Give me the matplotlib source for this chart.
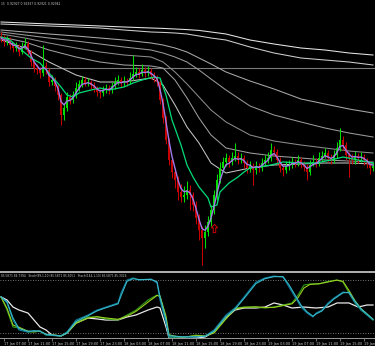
import numpy as np
import pandas as pd
import matplotlib
matplotlib.use("Agg")
import matplotlib.pyplot as plt
from matplotlib.path import Path

# ---------------- data (prices in points, 1 point = 0.00001) ----------------
close_pts = [92810, 92790, 92800, 92775, 92760, 92770, 92740, 92765, 92780, 92740,
             92690, 92660, 92650, 92635, 92670, 92650, 92590, 92600, 92570, 92525,
             92425, 92460, 92515, 92500, 92525, 92560, 92580, 92600, 92585, 92590,
             92575, 92560, 92540, 92535, 92550, 92560, 92550, 92570, 92590, 92600,
             92585, 92595, 92590, 92610, 92630, 92640, 92630, 92650, 92635, 92645,
             92625, 92610, 92590, 92500, 92410, 92300, 92200, 92140, 92100, 92040,
             92015, 92025, 92050, 92025, 91975, 91910, 91850, 91810, 91840, 91890,
             91950, 92025, 92100, 92160, 92190, 92210, 92190, 92210, 92220, 92200,
             92210, 92185, 92160, 92170, 92150, 92170, 92160, 92185, 92200, 92210,
             92250, 92240, 92200, 92160, 92150, 92170, 92175, 92190, 92185, 92200,
             92180, 92165, 92140, 92175, 92190, 92185, 92210, 92220, 92235, 92210,
             92200, 92225, 92260, 92300, 92275, 92225, 92210, 92200, 92220, 92210,
             92215, 92200, 92185, 92160, 92170]
high_pts = [92840, 92825, 92820, 92815, 92790, 92790, 92780, 92790, 92810, 92795,
            92750, 92700, 92680, 92665, 92775, 92690, 92660, 92625, 92615, 92580,
            92535, 92480, 92540, 92530, 92545, 92590, 92600, 92620, 92615, 92610,
            92600, 92590, 92570, 92555, 92570, 92580, 92575, 92590, 92615, 92625,
            92615, 92620, 92610, 92640, 92725, 92665, 92660, 92680, 92665, 92670,
            92660, 92640, 92625, 92600, 92510, 92420, 92310, 92215, 92160, 92120,
            92080, 92070, 92095, 92075, 92040, 91995, 91930, 91870, 91875, 91920,
            91975, 92050, 92130, 92190, 92215, 92235, 92225, 92240, 92285, 92240,
            92235, 92225, 92200, 92195, 92185, 92195, 92185, 92210, 92225, 92240,
            92285, 92270, 92255, 92215, 92175, 92195, 92200, 92215, 92205, 92225,
            92215, 92195, 92180, 92200, 92225, 92210, 92240, 92245, 92260, 92250,
            92230, 92250, 92290, 92360, 92320, 92290, 92240, 92230, 92245, 92235,
            92240, 92230, 92210, 92195, 92190]
low_pts = [92790, 92770, 92775, 92755, 92740, 92745, 92720, 92730, 92755, 92725,
           92670, 92640, 92630, 92610, 92620, 92630, 92570, 92575, 92545, 92500,
           92375, 92400, 92445, 92480, 92485, 92510, 92545, 92565, 92570, 92570,
           92555, 92540, 92520, 92510, 92520, 92535, 92530, 92535, 92555, 92575,
           92565, 92570, 92570, 92580, 92600, 92615, 92610, 92620, 92615, 92620,
           92605, 92590, 92570, 92480, 92385, 92280, 92175, 92110, 92060, 92000,
           91990, 91990, 92005, 91950, 91945, 91880, 91800, 91675, 91760, 91820,
           91870, 91930, 92000, 92085, 92140, 92170, 92165, 92175, 92195, 92180,
           92185, 92160, 92135, 92140, 92075, 92130, 92140, 92145, 92170, 92185,
           92195, 92220, 92180, 92140, 92120, 92135, 92150, 92160, 92165, 92170,
           92160, 92145, 92100, 92125, 92170, 92165, 92170, 92195, 92210, 92190,
           92180, 92185, 92210, 92245, 92250, 92200, 92115, 92180, 92180, 92185,
           92190, 92175, 92160, 92130, 92145]
open_first = 92820

# medium green moving average
green_bar = [0, 3, 6, 10, 13, 16, 20, 22, 24, 26, 30, 33, 36, 41, 44, 47, 51, 53, 55, 57,
             60, 62, 64, 66, 69, 70, 72, 73, 76, 79, 81, 83, 86, 90, 94, 100, 105, 110, 114, 119, 124]
green_pts = [92815, 92800, 92760, 92710, 92685, 92635, 92565, 92525, 92515, 92535, 92550,
             92560, 92550, 92565, 92585, 92600, 92615, 92610, 92525, 92400, 92275, 92175,
             92115, 92065, 92010, 91965, 91975, 92040, 92085, 92115, 92140, 92160, 92165,
             92175, 92190, 92185, 92185, 92200, 92215, 92200, 92185]

# slow moving averages
ma_bar = [0, 8, 16, 25, 33, 41, 50, 54, 58, 62, 66, 70, 75, 83, 91, 100, 108, 116, 124]
ma_w1 = [92890, 92885, 92880, 92875, 92870, 92865, 92860, 92858, 92855, 92852, 92848, 92840,
         92830, 92800, 92780, 92760, 92750, 92735, 92725]
ma_w2 = [92880, 92875, 92870, 92865, 92860, 92850, 92840, 92838, 92835, 92830, 92820, 92810,
         92800, 92765, 92735, 92710, 92700, 92690, 92675]
ma_c = [92850, 92840, 92830, 92820, 92810, 92800, 92785, 92775, 92760, 92740, 92710, 92680,
        92640, 92595, 92555, 92505, 92480, 92455, 92435]
ma_b = [92840, 92825, 92810, 92795, 92780, 92765, 92750, 92735, 92715, 92690, 92650, 92605,
        92550, 92470, 92425, 92390, 92360, 92335, 92315]
ma_a = [92830, 92810, 92785, 92760, 92740, 92725, 92715, 92690, 92640, 92580, 92515, 92450,
        92390, 92325, 92295, 92275, 92260, 92245, 92235]
ma_e = [92815, 92790, 92750, 92715, 92690, 92675, 92670, 92660, 92600, 92510, 92410, 92325,
        92260, 92235, 92220, 92210, 92200, 92195, 92190]
ma_g = [92800, 92760, 92690, 92625, 92590, 92590, 92610, 92575, 92475, 92365, 92285, 92185,
        92135, 92160, 92175, 92180, 92185, 92185, 92180]

hline_pts = 92660
signal_bar = [71]
signal_pts = [91860]

# stochastic sub-window
st_bar_teal = [0, 2, 4, 6, 9, 11, 13, 15, 20, 22, 25, 29, 32, 35, 39, 40, 42, 44, 46, 50, 52, 53,
               55, 56, 60, 65, 68, 71, 75, 78, 81, 85, 88, 91, 94, 96, 98, 100, 102, 104, 105,
               107, 109, 111, 114, 116, 118, 120, 122, 124]
st_teal_main = [60.8, 54.0, 34.7, 23.4, 21.1, 22.3, 22.3, 17.7, 16.6, 21.1, 34.7, 40.4, 46.0,
                49.4, 54.0, 65.3, 80.0, 82.3, 80.0, 81.1, 76.6, 57.4, 31.3, 15.5, 15.5, 15.5,
                16.6, 23.4, 40.4, 48.3, 60.8, 77.7, 82.3, 84.5, 83.4, 72.1, 60.8, 49.4, 42.6,
                38.1, 42.6, 46.0, 54.0, 59.6, 66.4, 65.3, 54.0, 46.0, 40.4, 34.7]
st_teal_sig = [60.8, 55.5, 37.0, 25.0, 22.0, 22.5, 22.0, 18.5, 16.8, 20.0, 33.0, 39.5, 45.0,
               48.6, 53.0, 62.0, 78.5, 81.5, 80.5, 80.6, 78.0, 61.0, 35.0, 17.0, 15.8, 15.6,
               16.2, 22.0, 38.5, 47.0, 59.0, 76.0, 81.5, 83.8, 83.8, 74.5, 63.0, 51.5, 44.0,
               39.0, 41.5, 45.0, 52.5, 58.5, 65.5, 66.0, 56.0, 47.5, 41.5, 35.5]
st_bar_green = [0, 2, 4, 6, 9, 11, 13, 15, 20, 22, 25, 29, 32, 35, 39, 42, 45, 49, 52, 53, 55,
                56, 60, 65, 68, 71, 75, 78, 81, 85, 88, 91, 94, 97, 99, 101, 103, 106, 108,
                110, 112, 114, 116, 118, 120, 122, 124]
st_green_main = [60.8, 46.0, 26.8, 25.7, 21.1, 21.1, 22.3, 17.7, 16.6, 21.1, 32.5, 38.1, 38.1,
                 35.9, 34.7, 40.4, 46.0, 57.4, 63.0, 60.8, 34.7, 15.5, 14.3, 17.7, 16.6, 21.1,
                 38.1, 48.3, 49.4, 49.4, 48.3, 49.4, 51.7, 54.0, 63.0, 74.3, 75.5, 75.5, 77.7,
                 78.9, 80.0, 77.7, 65.3, 54.0, 46.0, 40.4, 34.7]
st_green_sig = [60.8, 48.0, 29.0, 26.5, 22.0, 21.5, 22.0, 18.5, 16.8, 20.0, 31.0, 37.0, 38.5,
                37.0, 35.5, 39.0, 44.5, 55.0, 62.5, 62.0, 39.0, 18.0, 14.8, 17.0, 16.8, 20.0,
                36.0, 47.0, 49.0, 49.6, 48.8, 49.0, 51.0, 53.0, 60.0, 71.0, 75.0, 75.8, 77.0,
                78.5, 79.8, 78.5, 68.0, 56.5, 47.5, 41.5, 35.5]
st_bar_white = [0, 2, 4, 6, 9, 11, 13, 15, 17, 20, 22, 25, 29, 32, 35, 39, 42, 45, 49, 52, 53,
                55, 56, 60, 65, 68, 71, 75, 78, 81, 85, 88, 91, 94, 97, 101, 105, 109, 112,
                116, 119, 122, 124]
st_white = [60.8, 57.4, 49.4, 46.0, 42.6, 34.7, 26.8, 23.4, 17.7, 16.6, 20.0, 31.3, 37.0, 35.9,
            34.7, 34.7, 38.1, 40.4, 46.0, 49.4, 48.3, 26.8, 14.3, 13.2, 14.3, 15.5, 21.1, 37.0,
            46.0, 48.3, 48.3, 49.4, 54.0, 51.7, 48.3, 49.4, 48.3, 49.4, 54.0, 54.0, 49.4, 51.7,
            51.7]
st_levels = [80, 20]

main_text = "15  0.92927 0.92937 0.92921 0.92942"
stoch_text = ("85.5871 84.7394   Stoch(89,1,10) 85.5871 85.5051   "
              "Stoch(144,1,10) 85.5871 85.3026")

# ---------------- derived ----------------
n = len(close_pts)
close = np.array(close_pts) / 1e5
opens = np.concatenate([[open_first], close_pts[:-1]]) / 1e5
high = np.array(high_pts) / 1e5
low = np.array(low_pts) / 1e5
xb = np.arange(n)
times = pd.date_range("2017-01-17 06:30", periods=n, freq="30min")
fast = pd.Series(close).ewm(span=3, adjust=False).mean().values

# ---------------- figure ----------------
W, H = 375, 346
fig = plt.figure(figsize=(W / 100, H / 100), dpi=100, facecolor="black")
main_top, main_bot = 0, 270
sub_top, sub_bot = 272, 338
ax = fig.add_axes([0, 1 - main_bot / H, 1, (main_bot - main_top) / H])
ax2 = fig.add_axes([0, 1 - sub_bot / H, 1, (sub_bot - sub_top) / H])
for a in (ax, ax2):
    a.set_facecolor("black")
    for s in a.spines.values():
        s.set_visible(False)
    a.set_xticks([])
    a.set_yticks([])
x0 = -1 / 3
ax.set_xlim(x0, x0 + W / 3)
ax2.set_xlim(x0, x0 + W / 3)
ax.set_ylim(0.91650, 0.93000)

# slow MAs
for vals, col in [(ma_w1, "#e6e6e6"), (ma_w2, "#cfcfcf"), (ma_c, "#a9a9a9"),
                  (ma_b, "#9a9a9a"), (ma_a, "#8c8c8c"), (ma_e, "#9e9e9e"), (ma_g, "#c4c4c4")]:
    ax.plot(ma_bar, np.array(vals) / 1e5, color=col, lw=0.75, zorder=2)
ax.axhline(hline_pts / 1e5, color="#7a7a7a", lw=0.8, zorder=1)

# candles
up = close >= opens
cols = np.where(up, "#00e000", "#c80000")
ax.vlines(xb, low, high, colors=cols, lw=0.75, zorder=3)
body_lo = np.minimum(opens, close)
body_h = np.maximum(np.abs(close - opens), 0.00004)
ax.bar(xb, body_h, bottom=body_lo, width=0.62, color=cols, linewidth=0, zorder=3)

# fast and medium MAs
ax.plot(green_bar, np.array(green_pts) / 1e5, color="#00dd77", lw=0.9, zorder=4)
ax.plot(xb, fast, color="#a07ae8", lw=1.0, zorder=5)

# signal arrow
arrow = Path([(0, 1), (0.75, 0.15), (0.3, 0.15), (0.3, -1), (-0.3, -1), (-0.3, 0.15),
              (-0.75, 0.15), (0, 1)], closed=True)
ax.plot(signal_bar, np.array(signal_pts) / 1e5, linestyle="none", marker=arrow, ms=6,
        mfc="none", mec="#d00000", mew=0.7, zorder=6)

ax.text(1 / W, 1 - 2 / main_bot, main_text, transform=ax.transAxes, fontsize=2.2,
        color="#c8c8c8", va="top", ha="left")

# ---------------- stochastic window ----------------
yk = 53 / 60.0  # px per unit
y_top = 80 + (280 - sub_top) / yk
y_bot = 80 - (sub_bot - 280) / yk
ax2.set_ylim(y_bot, y_top)
for lv in st_levels:
    ax2.axhline(lv, color="#9a9a9a", lw=0.6, linestyle=(0, (1, 2)), zorder=1)
ax2.plot(st_bar_white, st_white, color="#e8e8e8", lw=0.9, zorder=3)
ax2.plot(st_bar_green, st_green_main, color="#2f9a1c", lw=0.8, zorder=4)
ax2.plot(st_bar_green, st_green_sig, color="#9ad020", lw=0.8, zorder=4)
ax2.plot(st_bar_teal, st_teal_main, color="#0a7fa0", lw=0.8, zorder=5)
ax2.plot(st_bar_teal, st_teal_sig, color="#38b8c8", lw=0.8, zorder=5)
ax2.spines["top"].set_visible(True)
ax2.spines["top"].set_color("#b0b0b0")
ax2.spines["top"].set_linewidth(1.4)
ax2.spines["bottom"].set_visible(True)
ax2.spines["bottom"].set_color("#9a9a9a")
ax2.spines["bottom"].set_linewidth(0.7)
ax2.text(1 / W, 1 - 2 / (sub_bot - sub_top), stoch_text, transform=ax2.transAxes,
         fontsize=2.1, color="#c8c8c8", va="top", ha="left")

# time axis
tick_idx = [i for i, t in enumerate(times) if t.minute == 0 and t.hour % 4 == 3]
ax2.set_xticks(tick_idx)
ax2.set_xticklabels([times[i].strftime("%d %b %H:%M") for i in tick_idx], ha="left")
ax2.tick_params(axis="x", colors="#9a9a9a", labelcolor="#c8c8c8", labelsize=2.5,
                length=2, width=0.5, pad=0.6, direction="out")

fig.savefig("out.png", dpi=100, facecolor="black")
